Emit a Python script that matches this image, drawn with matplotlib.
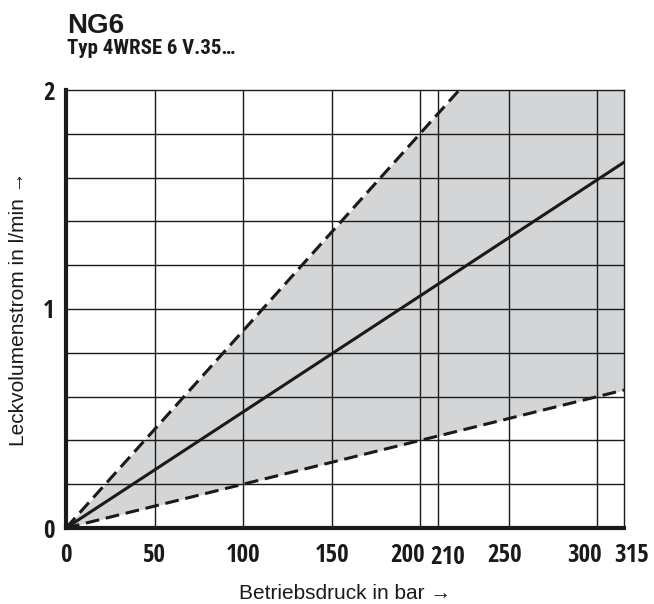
import numpy as np
import matplotlib.pyplot as plt
from matplotlib.transforms import ScaledTranslation

# Betriebsdruck (bar) und Leckvolumenstrom (l/min)
druck_oben = [0, 222]
obere_grenze = [0, 2.0]            # gestrichelt oben
druck_mitte = [0, 315]
mittel = [0, 1.67]                 # durchgezogen
druck_unten = [0, 315]
untere_grenze = [0, 0.63]          # gestrichelt unten

x_ticks = [0, 50, 100, 150, 200, 210, 250, 300, 315]
y_ticks = [0, 1, 2]
y_grid = [0.2, 0.4, 0.6, 0.8, 1.2, 1.4, 1.6, 1.8]

sans = ['Liberation Sans', 'DejaVu Sans']
cond = ['Open Sans Condensed', 'Roboto Condensed', 'DejaVu Sans']
cond2 = ['Roboto Condensed', 'Open Sans Condensed', 'DejaVu Sans']

W, H = 654, 604
fig = plt.figure(figsize=(W / 100, H / 100), dpi=100)
ax = fig.add_axes([66 / W, (H - 528) / H, 558 / W, 438 / H])

# Fläche zwischen oberer und unterer Grenze
xs = np.linspace(0, 315, 300)
top = np.interp(xs, druck_oben, obere_grenze, right=2.0)
bot = np.interp(xs, druck_unten, untere_grenze)
ax.fill_between(xs, bot, top, color='#d4d5d7', lw=0, zorder=1)

# Gitter
for x in x_ticks[1:-1]:
    ax.axvline(x, color='#1a1a1a', lw=1.0, zorder=2)
for y in y_grid + [1]:
    ax.axhline(y, color='#1a1a1a', lw=1.0, zorder=2)

ax.plot(druck_oben, obere_grenze, color='#1a1a1a', lw=2.2, ls=(0, (4.5, 2.2)), zorder=3,
        dash_capstyle='butt')
ax.plot(druck_mitte, mittel, color='#1a1a1a', lw=2.2, zorder=3)
ax.plot(druck_unten, untere_grenze, color='#1a1a1a', lw=2.2, ls=(0, (4.5, 2.2)), zorder=3,
        dash_capstyle='butt')

ax.set_xlim(0, 315)
ax.set_ylim(0, 2)
ax.set_xticks(x_ticks)
ax.set_yticks(y_ticks)
ax.tick_params(axis='x', length=0, pad=11)
ax.tick_params(axis='y', length=0, pad=8)
ax.set_xticklabels([str(t) for t in x_ticks], family=cond, fontsize=18, weight='bold', color='#1a1a1a')
ax.set_yticklabels([str(t) for t in y_ticks], family=cond, fontsize=18, weight='bold', color='#1a1a1a')

# eng stehende Beschriftungen etwas auseinanderschieben (Pixel)
shift = {'200': (-13, 0), '210': (10, -2), '250': (-4, 0), '300': (-13, 0), '315': (8, 0)}
for lbl in ax.get_xticklabels():
    if lbl.get_text() in shift:
        dx, dy = shift[lbl.get_text()]
        lbl.set_transform(lbl.get_transform() + ScaledTranslation(dx / 100, dy / 100, fig.dpi_scale_trans))

for side in ['left', 'bottom']:
    ax.spines[side].set_linewidth(3)
for side in ['top', 'right']:
    ax.spines[side].set_linewidth(1.0)
for sp in ax.spines.values():
    sp.set_color('#1a1a1a')
    sp.set_zorder(4)

ax.set_xlabel('Betriebsdruck in bar →', family=sans, fontsize=15, labelpad=10, color='#1a1a1a')
ax.set_ylabel('Leckvolumenstrom in l/min →', family=sans, fontsize=15, labelpad=11, color='#1a1a1a')

fig.text(67 / W, 1 - 33 / H, 'NG6', family=sans, fontsize=20, weight='bold', va='baseline', color='#1a1a1a')
fig.text(67 / W, 1 - 54 / H, 'Typ 4WRSE 6 V.35…', family=cond2, fontsize=15, weight='bold',
         va='baseline', color='#1a1a1a')

fig.savefig('out.png', dpi=100)
